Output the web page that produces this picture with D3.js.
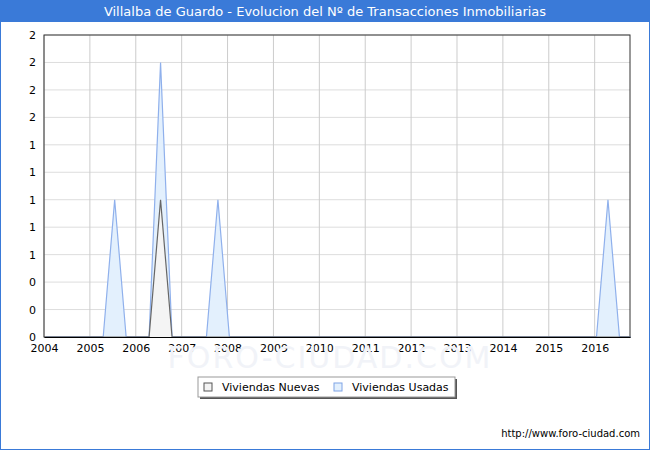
<!DOCTYPE html>
<html><head><meta charset="utf-8">
<script src="https://cdn.jsdelivr.net/npm/d3@7"></script>
<style>body{margin:0;background:#fff;font-family:Verdana,"DejaVu Sans",sans-serif}</style>
</head><body><div id="chart"></div>
<script>
// quarterly points (year fraction) and values
var quarters = [];
for (var yr = 2004; yr <= 2016; yr++) for (var q = 0; q < 4; q++) quarters.push(yr + q / 4);
var nuevasPeaks = {"2006.5": 1};
var usadasPeaks = {"2005.5": 1, "2006.5": 2, "2007.75": 1, "2016.25": 1};
var nuevas = quarters.map(function (t) { return nuevasPeaks[t] || 0; });
var usadas = quarters.map(function (t) { return usadasPeaks[t] || 0; });
var yTicks = [0, 0.2, 0.4, 0.6, 0.8, 1, 1.2, 1.4, 1.6, 1.8, 2, 2.2];
var years = d3.range(2004, 2017);

var W = 650, H = 450,
	margin = {top: 35, right: 20, bottom: 113, left: 44},
	width = 630 - margin.left,
	height = 337 - margin.top;

var svg = d3.select("#chart").append("svg").attr("width", W).attr("height", H);
svg.append("rect").attr("x", 0.5).attr("y", 0.5).attr("width", W - 1).attr("height", H - 1)
	.attr("fill", "#fff").attr("stroke", "#3a7ad8");
svg.append("rect").attr("width", W).attr("height", 22).attr("fill", "#3a7ad8");
svg.append("text").attr("x", W / 2).attr("y", 16).attr("text-anchor", "middle")
	.attr("fill", "#fff").attr("font-size", 13).text("Villalba de Guardo - Evolucion del Nº de Transacciones Inmobiliarias");

var g = svg.append("g").attr("transform", "translate(" + margin.left + "," + margin.top + ")");
var x = d3.scaleLinear().domain([2004, 2016.77]).range([0, width]);
var y = d3.scaleLinear().domain([0, 2.2]).range([height, 0]);
var off = 0.04; // points sit slightly right of the quarter start

// watermark
svg.append("text").attr("x", 330).attr("y", 368).attr("text-anchor", "middle")
	.attr("font-size", 30).attr("fill", "#f1f3f8").attr("letter-spacing", 2).text("FORO-CIUDAD.COM");

g.selectAll(".hg").data(yTicks).enter().append("line")
	.attr("x1", 0).attr("x2", width).attr("y1", function (d) { return y(d); }).attr("y2", function (d) { return y(d); })
	.attr("stroke", "#ddd");
g.selectAll(".vg").data(years).enter().append("line")
	.attr("y1", 0).attr("y2", height).attr("x1", function (d) { return x(d); }).attr("x2", function (d) { return x(d); })
	.attr("stroke", "#ccc");
g.append("rect").attr("width", width).attr("height", height).attr("fill", "none").attr("stroke", "#333");

var area = function (vals) {
	return d3.area().x(function (d, i) { return x(quarters[i] + off); }).y0(height).y1(function (d) { return y(d); })(vals);
};
var line = function (vals) {
	return d3.line().x(function (d, i) { return x(quarters[i] + off); }).y(function (d) { return y(d); })(vals);
};
g.append("path").attr("d", area(usadas)).attr("fill", "#e3f0fd");
g.append("path").attr("d", line(usadas)).attr("fill", "none").attr("stroke", "#8fb0ec").attr("stroke-width", 1.2);
g.append("path").attr("d", area(nuevas)).attr("fill", "#f4f4f4");
g.append("path").attr("d", line(nuevas)).attr("fill", "none").attr("stroke", "#666").attr("stroke-width", 1.2);

g.append("g").attr("transform", "translate(0," + height + ")")
	.call(d3.axisBottom(x).tickValues(years).tickFormat(d3.format("d")).tickSize(0).tickPadding(7))
	.call(function (a) { a.select(".domain").attr("stroke", "#000"); a.selectAll("text").attr("font-size", 11).attr("fill", "#000").attr("font-family", "Verdana,DejaVu Sans"); });
g.append("g")
	.call(d3.axisLeft(y).tickValues(yTicks).tickFormat(d3.format(".0f")).tickSize(0).tickPadding(8))
	.call(function (a) { a.select(".domain").remove(); a.selectAll("text").attr("font-size", 11).attr("fill", "#000").attr("font-family", "Verdana,DejaVu Sans"); });

// legend
var lg = svg.append("g").attr("transform", "translate(198,377)");
lg.append("rect").attr("x", 2).attr("y", 2).attr("width", 257).attr("height", 20).attr("fill", "#555");
lg.append("rect").attr("width", 257).attr("height", 20).attr("fill", "#fff").attr("stroke", "#999");
var items = [["Viviendas Nuevas", "#f4f4f4", "#555", 6], ["Viviendas Usadas", "#e3f0fd", "#7fa4e6", 136]];
items.forEach(function (it) {
	lg.append("rect").attr("x", it[3]).attr("y", 6).attr("width", 8).attr("height", 8).attr("fill", it[1]).attr("stroke", it[2]);
	lg.append("text").attr("x", it[3] + 18).attr("y", 14).attr("font-size", 11).text(it[0]);
});
svg.append("text").attr("x", 640).attr("y", 437).attr("text-anchor", "end").attr("font-size", 10).text("http://www.foro-ciudad.com");
</script></body></html>
